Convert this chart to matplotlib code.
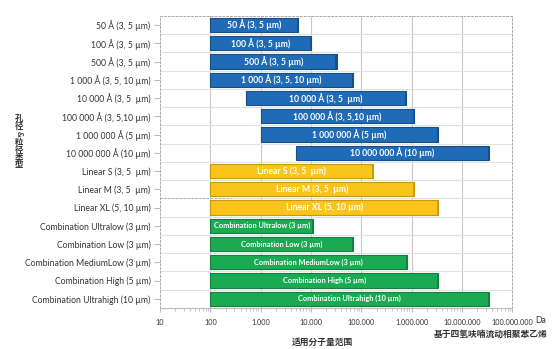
import matplotlib.pyplot as plt
import numpy as np

plt.rcParams['font.family'] = ['Lato', 'Noto Sans CJK SC', 'DejaVu Sans']

columns = ['50 Å (3, 5 µm)', '100 Å (3, 5 µm)', '500 Å (3, 5 µm)', '1 000 Å (3, 5, 10 µm)',
           '10 000 Å (3, 5  µm)', '100 000 Å (3, 5,10 µm)', '1 000 000 Å (5 µm)',
           '10 000 000 Å (10 µm)', 'Linear S (3, 5  µm)', 'Linear M (3, 5  µm)',
           'Linear XL (5, 10 µm)', 'Combination Ultralow (3 µm)', 'Combination Low (3 µm)',
           'Combination MediumLow (3 µm)', 'Combination High (5 µm)',
           'Combination Ultrahigh (10 µm)']
# molecular weight range, Da
mw_low = [100, 100, 100, 100, 500, 1000, 1000, 5000,
          100, 100, 100, 100, 100, 100, 100, 100]
mw_high = [5500, 10000, 32000, 68000, 780000, 1100000, 3300000, 34000000,
           170000, 1100000, 3300000, 11000, 68000, 800000, 3300000, 34000000]
groups = ['pore'] * 8 + ['linear'] * 3 + ['comb'] * 5

tick_values = [10, 100, 1e3, 1e4, 1e5, 1e6, 1e7, 1e8]
tick_labels = ['10', '100', '1.000', '10.000', '100.000', '1.000.000', '10.000.000', '100.000.000']
ylabel_chars = ['孔', '径', '&', '粒', '径', '类', '型']

colors = {'pore': '#1f6bb5', 'linear': '#fbc41a', 'comb': '#1aab52'}
edges = {'pore': '#15508a', 'linear': '#c79a10', 'comb': '#138040'}

fig = plt.figure(figsize=(5.54, 3.49), dpi=100)
ax = fig.add_axes([0.289, 0.1175, 0.636, 0.837])

y = np.arange(len(columns))
for i in range(len(columns)):
    g = groups[i]
    ax.barh(y[i], mw_high[i] - mw_low[i], left=mw_low[i], height=0.78,
            color=colors[g], edgecolor=edges[g], linewidth=0.8, zorder=3)
    # darker sliver at the right end (3D side face look)
    ax.barh(y[i], mw_high[i] * 0.06, left=mw_high[i] * 0.94, height=0.78,
            color=edges[g], linewidth=0, zorder=3)
    xc = np.sqrt(mw_low[i] * mw_high[i])
    fs = 5.3 if g == 'comb' else 6.2
    ax.text(xc, y[i], columns[i], color='white', fontsize=fs, ha='center', va='center',
            fontweight='bold', zorder=4)

ax.set_xscale('log')
ax.set_xlim(10, 1e8)
ax.set_ylim(len(columns) - 0.5, -0.5)
ax.set_xticks(tick_values)
ax.set_xticklabels(tick_labels, fontsize=5.3, color='#333333')
ax.set_yticks(y)
ax.set_yticklabels(columns, fontsize=6.2, color='#333333')
ax.tick_params(axis='y', length=4, color='#bbbbbb', pad=3)
ax.tick_params(axis='x', which='major', length=3, color='#bbbbbb', pad=5)
ax.tick_params(axis='x', which='minor', length=2, color='#bbbbbb')

# vertical grid at decades and row separators
for v in tick_values[1:-1]:
    ax.axvline(v, color='#c8c8c8', linewidth=0.8, zorder=1)
for k in range(len(columns) - 1):
    ax.axhline(k + 0.5, color='#e2e2e2', linewidth=0.8, zorder=1)
ax.axhline(9.5, xmin=0, xmax=0.2, color='#aaaaaa', linewidth=0.7, linestyle=(0, (2, 2)), zorder=2)

for s in ['top', 'right', 'left']:
    ax.spines[s].set_linestyle((0, (2, 2)))
    ax.spines[s].set_color('#aaaaaa')
    ax.spines[s].set_linewidth(0.7)
ax.spines['bottom'].set_color('#bbbbbb')

fig.text(0.966, 0.083, 'Da', fontsize=6.3, ha='left', va='center', color='#333333')
fig.text(0.885, 0.043, '基于四氢呋喃流动相聚苯乙烯', fontsize=6.3, ha='center', va='center',
         color='#333333', fontweight='bold')
fig.text(0.582, 0.02, '适用分子量范围', fontsize=6.3, ha='center', va='center',
         color='#333333', fontweight='bold')

# vertical (stacked) y label
for k, ch in enumerate(ylabel_chars):
    fig.text(0.035, 1 - (118 + 8.0 * k) / 349, ch, fontsize=6.0, ha='center', va='center',
             color='#333333', fontweight='bold',
             rotation=-90 if ch == '&' else 0)

fig.savefig('out.png', dpi=100)
